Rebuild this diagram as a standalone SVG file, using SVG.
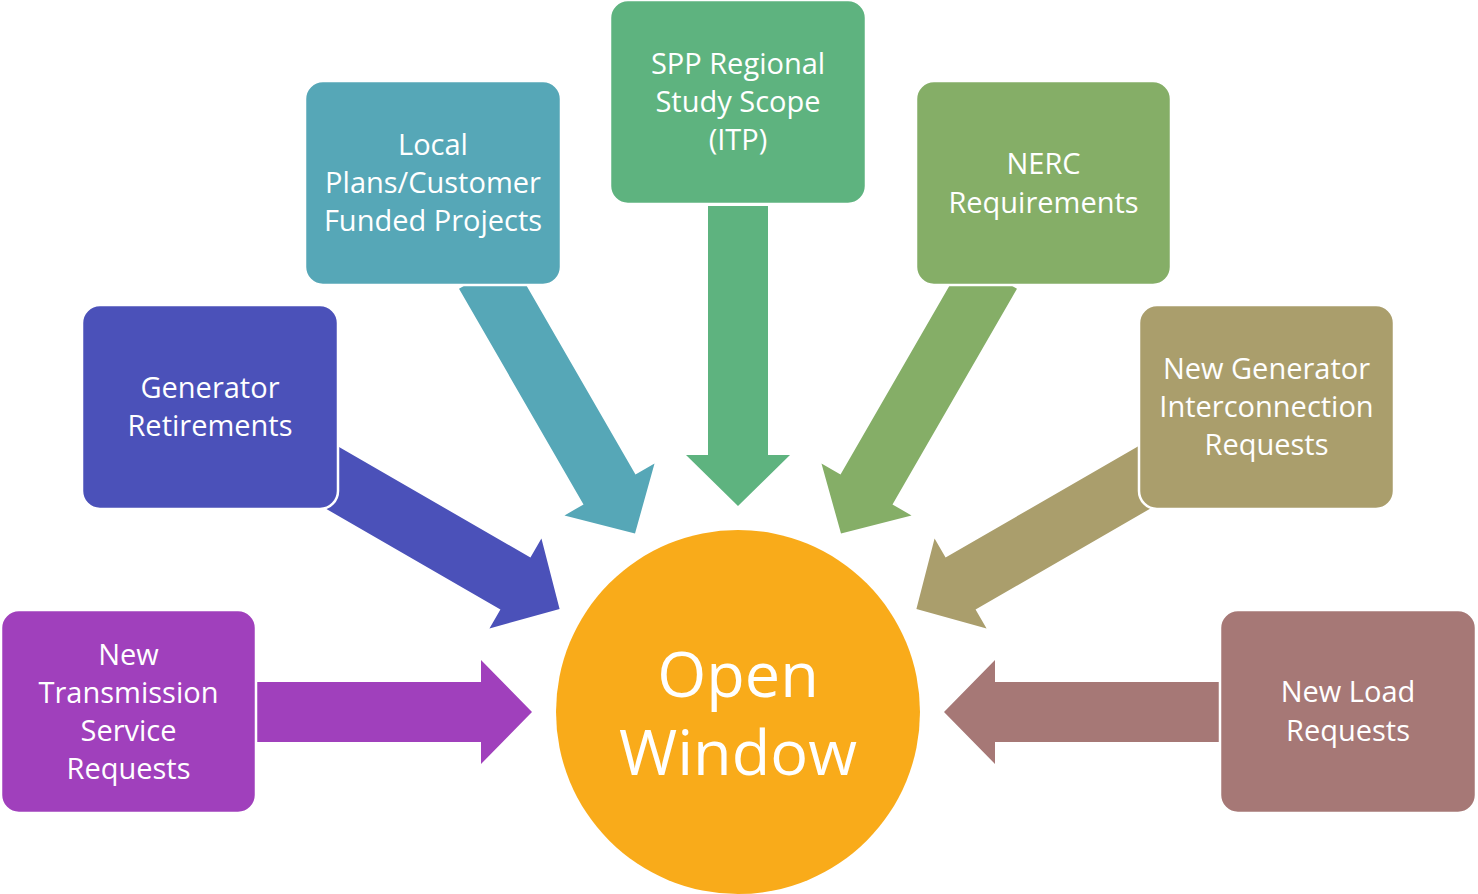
<svg xmlns="http://www.w3.org/2000/svg" width="1478" height="894" viewBox="0 0 1478 894">
<defs>
<polygon id="arr" points="-300,-30 -51,-30 -51,-52 0,0 -51,52 -51,30 -300,30"/>
</defs>
<style>
.box{stroke:#ffffff;stroke-width:2.5}
.t{font-family:"Open Sans","Noto Sans",sans-serif;font-size:29px;fill:#ffffff;text-anchor:middle}
.big{font-family:"Open Sans","Noto Sans",sans-serif;font-size:63px;fill:#ffffff;text-anchor:middle}
</style>
<rect width="1478" height="894" fill="#ffffff"/>
<g id="connectors">
<use href="#arr" fill="#A040BC" transform="translate(532,712) rotate(0)"/>
<use href="#arr" fill="#4B51B9" transform="translate(559.6,609) rotate(30)"/>
<use href="#arr" fill="#56A7B7" transform="translate(635,533.6) rotate(60)"/>
<use href="#arr" fill="#5EB37F" transform="translate(738,506) rotate(90)"/>
<use href="#arr" fill="#85AE67" transform="translate(841,533.6) rotate(120)"/>
<use href="#arr" fill="#AA9E6C" transform="translate(916.4,609) rotate(150)"/>
<use href="#arr" fill="#A67876" transform="translate(944,712) rotate(180)"/>
</g>
<g id="center">
<circle cx="738" cy="712" r="182" fill="#F9AB1A"/>
<text class="big" x="738" y="697">Open</text>
<text class="big" x="738" y="775">Window</text>
</g>
<g id="n-transmission">
<rect class="box" x="1" y="610" width="255" height="203" rx="18" fill="#A040BC"/>
<text class="t" x="128.5" y="665">New</text>
<text class="t" x="128.5" y="703">Transmission</text>
<text class="t" x="128.5" y="741">Service</text>
<text class="t" x="128.5" y="779">Requests</text>
</g>
<g id="n-retire">
<rect class="box" x="82" y="305" width="256" height="204" rx="18" fill="#4B51B9"/>
<text class="t" x="210" y="398">Generator</text>
<text class="t" x="210" y="436">Retirements</text>
</g>
<g id="n-local">
<rect class="box" x="305" y="81" width="256" height="204" rx="18" fill="#56A7B7"/>
<text class="t" x="433" y="155">Local</text>
<text class="t" x="433" y="193">Plans/Customer</text>
<text class="t" x="433" y="231">Funded Projects</text>
</g>
<g id="n-spp">
<rect class="box" x="610" y="0" width="256" height="204" rx="18" fill="#5EB37F"/>
<text class="t" x="738" y="74">SPP Regional</text>
<text class="t" x="738" y="112">Study Scope</text>
<text class="t" x="738" y="150">(ITP)</text>
</g>
<g id="n-nerc">
<rect class="box" x="916" y="81" width="255" height="204" rx="18" fill="#85AE67"/>
<text class="t" x="1043.5" y="174">NERC</text>
<text class="t" x="1043.5" y="213">Requirements</text>
</g>
<g id="n-gen">
<rect class="box" x="1139" y="305" width="255" height="204" rx="18" fill="#AA9E6C"/>
<text class="t" x="1266.5" y="379">New Generator</text>
<text class="t" x="1266.5" y="417">Interconnection</text>
<text class="t" x="1266.5" y="455">Requests</text>
</g>
<g id="n-load">
<rect class="box" x="1220" y="610" width="256" height="203" rx="18" fill="#A67876"/>
<text class="t" x="1348" y="702">New Load</text>
<text class="t" x="1348" y="741">Requests</text>
</g>
</svg>
